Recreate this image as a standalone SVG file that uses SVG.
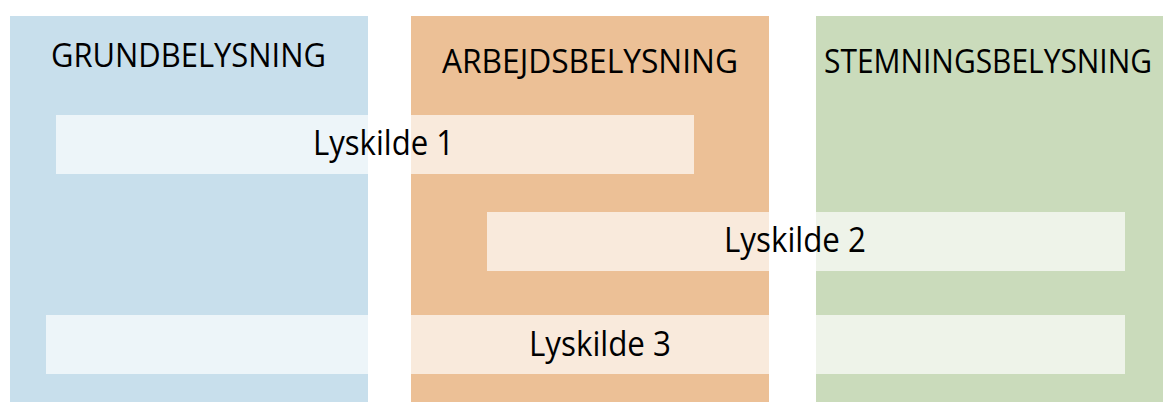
<svg xmlns="http://www.w3.org/2000/svg" width="1163" height="402" viewBox="0 0 1163 402">
  <style>
    .title { font-family: "Open Sans", "Liberation Sans", sans-serif; font-size: 33px; fill: #000; }
    .label { font-family: "Open Sans", "Liberation Sans", sans-serif; font-size: 35px; fill: #000; }
    .bar { fill: #ffffff; fill-opacity: 0.67; }
  </style>
  <rect width="1163" height="402" fill="#ffffff"/>

  <!-- lighting categories -->
  <g id="grundbelysning">
    <rect x="10" y="16" width="358" height="386" fill="#C8DFEC"/>
    <text class="title" x="51" y="67" textLength="275" lengthAdjust="spacingAndGlyphs">GRUNDBELYSNING</text>
  </g>
  <g id="arbejdsbelysning">
    <rect x="411" y="16" width="358" height="386" fill="#ECC096"/>
    <text class="title" x="442" y="73" textLength="296" lengthAdjust="spacingAndGlyphs">ARBEJDSBELYSNING</text>
  </g>
  <g id="stemningsbelysning">
    <rect x="816" y="16" width="347" height="386" fill="#CADBBB"/>
    <text class="title" x="824" y="73" textLength="328" lengthAdjust="spacingAndGlyphs">STEMNINGSBELYSNING</text>
  </g>

  <!-- light sources spanning the categories -->
  <g id="lyskilde1">
    <rect class="bar" x="56" y="115" width="638" height="59"/>
    <text class="label" x="313" y="155" textLength="141" lengthAdjust="spacingAndGlyphs">Lyskilde 1</text>
  </g>
  <g id="lyskilde2">
    <rect class="bar" x="487" y="212" width="638" height="59"/>
    <text class="label" x="724" y="252" textLength="142" lengthAdjust="spacingAndGlyphs">Lyskilde 2</text>
  </g>
  <g id="lyskilde3">
    <rect class="bar" x="46" y="315" width="1079" height="59"/>
    <text class="label" x="529" y="356" textLength="142" lengthAdjust="spacingAndGlyphs">Lyskilde 3</text>
  </g>

  <g id="connectors"/>
</svg>
